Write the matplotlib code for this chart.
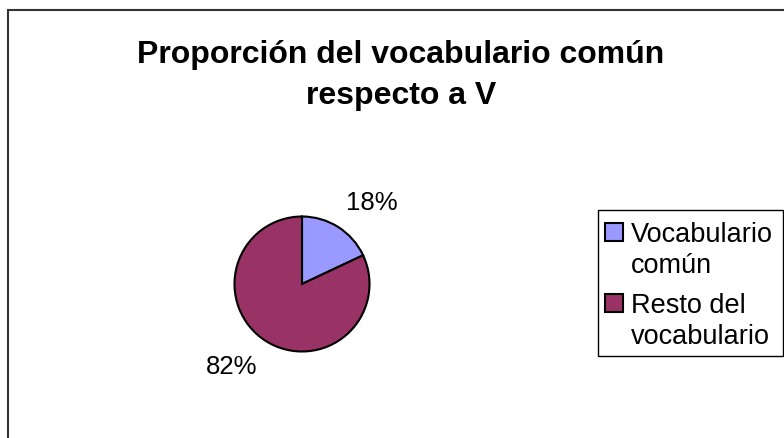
import matplotlib
matplotlib.use("Agg")
import matplotlib.pyplot as plt
from matplotlib.patches import Rectangle
import numpy as np

# ---- data ----
title_lines = ["Proporción del vocabulario común", "respecto a V"]
categories = ["Vocabulario\ncomún", "Resto del\nvocabulario"]
values = [18, 82]
colors = ["#9999FF", "#993366"]

W, H = 784, 439
DPI = 100
plt.rcParams['font.family'] = ['Liberation Sans', 'DejaVu Sans']

fig = plt.figure(figsize=(W / DPI, H / DPI), dpi=DPI)
fig.patch.set_facecolor("white")


def fx(x):
    return x / W


def fy(y):
    return 1 - y / H


# outer chart border (open to the right/bottom edge, as cropped)
fig.patches.append(Rectangle((fx(8), fy(H + 20)), 1.2, (H + 20 - 11) / H,
                             transform=fig.transFigure, fill=False,
                             edgecolor="#333333", linewidth=1.5))

# title
fig.text(fx(401), fy(63), title_lines[0], ha="center", va="baseline",
         fontsize=23, fontweight="bold")
fig.text(fx(401), fy(104), title_lines[1], ha="center", va="baseline",
         fontsize=23, fontweight="bold")

# pie
cx, cy, r = 302, 285, 67.5
ax = fig.add_axes([fx(cx - r), fy(cy + r), 2 * r / W, 2 * r / H])
wedges, _ = ax.pie(values, colors=colors, startangle=90, counterclock=False,
                   wedgeprops=dict(edgecolor="black", linewidth=1.5),
                   radius=1.0)
ax.set_xlim(-1, 1)
ax.set_ylim(-1, 1)
ax.set_aspect("equal")
ax.axis("off")

total = sum(values)
for w, v in zip(wedges, values):
    mid = np.deg2rad((w.theta1 + w.theta2) / 2)
    d = 1.22
    x, y = d * np.cos(mid), d * np.sin(mid)
    ha = "left" if x > 0 else "right"
    va = "bottom" if y > 0 else "top"
    ax.text(x, y, f"{v / total * 100:.0f}%", ha=ha, va=va, fontsize=18.5,
            clip_on=False)

# legend (square aligned with first text line, as in Excel)
fig.patches.append(Rectangle((fx(598), fy(357)), (783 - 598) / W,
                             (357 - 211) / H, transform=fig.transFigure,
                             fill=False, edgecolor="black", linewidth=1.0))
entry_top = [224, 295]
line_step = 31
sq = 18
for cat, col, top in zip(categories, colors, entry_top):
    fig.patches.append(Rectangle((fx(605), fy(top + sq)), sq / W, sq / H,
                                 transform=fig.transFigure, facecolor=col,
                                 edgecolor="black", linewidth=1.5))
    for k, line in enumerate(cat.split("\n")):
        fig.text(fx(631), fy(top + sq + k * line_step), line, ha="left",
                 va="baseline", fontsize=19.5)

fig.savefig("out.png", dpi=DPI, facecolor="white")
